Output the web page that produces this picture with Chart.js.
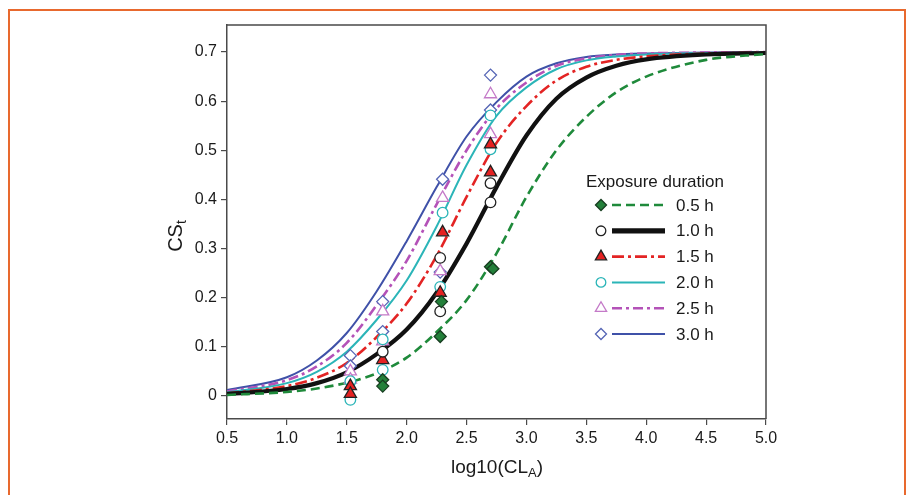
<!DOCTYPE html>
<html>
<head>
<meta charset="utf-8">
<script src="https://cdn.jsdelivr.net/npm/chart.js@4.4.0/dist/chart.umd.min.js"></script>
<style>
  html, body { margin: 0; padding: 0; background: #fff; }
  #wrap { position: relative; width: 917px; height: 495px; overflow: hidden; }
  #frame { position: absolute; left: 8px; top: 9px; width: 898px; height: 600px; border: 2px solid #e8692e; box-sizing: border-box; }
  #chart { position: absolute; left: 0; top: 0; }
</style>
</head>
<body>
<div id="wrap">
  <div id="frame"></div>
  <canvas id="chart" width="917" height="495"></canvas>
</div>
<script>
// fitted curves at these x positions
const curveX = [0.5, 1.0, 1.25, 1.5, 1.75, 2.0, 2.25, 2.5, 2.75, 3.0, 3.25, 3.5, 3.75, 4.0, 4.5, 5.0];
const curve05 = [0.002, 0.008, 0.015, 0.027, 0.046, 0.078, 0.130, 0.195, 0.290, 0.405, 0.500, 0.568, 0.618, 0.650, 0.684, 0.696];
const curve10 = [0.004, 0.014, 0.026, 0.048, 0.085, 0.135, 0.210, 0.310, 0.425, 0.530, 0.605, 0.648, 0.672, 0.685, 0.695, 0.698];
const curve15 = [0.005, 0.020, 0.037, 0.067, 0.120, 0.188, 0.285, 0.405, 0.515, 0.590, 0.642, 0.670, 0.684, 0.691, 0.697, 0.699];
const curve20 = [0.007, 0.026, 0.049, 0.090, 0.155, 0.235, 0.345, 0.470, 0.570, 0.628, 0.665, 0.683, 0.691, 0.695, 0.698, 0.699];
const curve25 = [0.009, 0.032, 0.060, 0.108, 0.185, 0.275, 0.390, 0.500, 0.585, 0.638, 0.672, 0.687, 0.694, 0.697, 0.699, 0.700];
const curve30 = [0.012, 0.038, 0.072, 0.128, 0.213, 0.315, 0.425, 0.528, 0.598, 0.650, 0.677, 0.690, 0.695, 0.697, 0.699, 0.700];

// measured points
const ptX05 = [1.80, 1.80, 2.28, 2.29, 2.70, 2.72];
const ptY05 = [0.033, 0.020, 0.121, 0.192, 0.263, 0.259];
const ptX10 = [1.80, 2.28, 2.28, 2.70, 2.70];
const ptY10 = [0.090, 0.281, 0.172, 0.433, 0.394];
const ptX15 = [1.53, 1.53, 1.80, 2.28, 2.30, 2.70, 2.70];
const ptY15 = [0.020, 0.004, 0.073, 0.210, 0.333, 0.512, 0.455];
const ptX20 = [1.53, 1.53, 1.80, 1.80, 2.28, 2.30, 2.70, 2.70];
const ptY20 = [0.030, -0.008, 0.053, 0.115, 0.222, 0.373, 0.571, 0.502];
const ptX25 = [1.53, 1.53, 1.80, 1.80, 2.28, 2.30, 2.70, 2.70];
const ptY25 = [0.050, 0.033, 0.172, 0.111, 0.254, 0.403, 0.614, 0.533];
const ptX30 = [1.53, 1.53, 1.80, 1.80, 2.28, 2.30, 2.70, 2.70];
const ptY30 = [0.082, 0.061, 0.192, 0.131, 0.252, 0.441, 0.653, 0.582];

const durations = ['0.5 h', '1.0 h', '1.5 h', '2.0 h', '2.5 h', '3.0 h'];
const yTicks = [0, 0.1, 0.2, 0.3, 0.4, 0.5, 0.6, 0.7];

// style per series
const styles = [
    { line: '#1f8a3b', width: 2.6, dash: [9, 5], point: 'rectRot', r: 6, fill: '#23803a', stroke: '#173d20' },
    { line: '#111111', width: 4.2, dash: [], point: 'circle', r: 5.3, fill: '#ffffff', stroke: '#222222' },
    { line: '#e32424', width: 2.6, dash: [12, 4, 3, 4], point: 'triangle', r: 7, fill: '#e52222', stroke: '#222222' },
    { line: '#2bb5b8', width: 2, dash: [], point: 'circle', r: 5.3, fill: '#ffffff', stroke: '#2bb5b8' },
    { line: '#b452b8', width: 2.6, dash: [10, 4, 3, 4], point: 'triangle', r: 7, fill: '#ffffff', stroke: '#c47ac8' },
    { line: '#3f51a8', width: 2, dash: [], point: 'rectRot', r: 6, fill: '#ffffff', stroke: '#5565b5' }
];

const curves = [curve05, curve10, curve15, curve20, curve25, curve30];
const ptXs = [ptX05, ptX10, ptX15, ptX20, ptX25, ptX30];
const ptYs = [ptY05, ptY10, ptY15, ptY20, ptY25, ptY30];

function toXY(xs, ys) {
    return xs.map((x, i) => ({ x: x, y: ys[i] }));
}

const datasets = [];
styles.forEach((s, i) => {
    datasets.push({
        type: 'scatter',
        label: durations[i] + ' data',
        data: toXY(ptXs[i], ptYs[i]),
        pointStyle: s.point,
        pointRadius: s.r,
        pointBackgroundColor: s.fill,
        pointBorderColor: s.stroke,
        pointBorderWidth: 1.3,
        showLine: false,
        order: 0
    });
});
styles.forEach((s, i) => {
    datasets.push({
        type: 'line',
        label: durations[i],
        data: toXY(curveX, curves[i]),
        borderColor: s.line,
        borderWidth: s.width,
        borderDash: s.dash,
        pointRadius: 0,
        fill: false,
        cubicInterpolationMode: 'monotone',
        order: 1
    });
});

// text with subscripts, centred on x
function drawSubText(ctx, parts, x, y, size) {
    const big = size + 'px "Liberation Sans", Arial, sans-serif';
    const small = Math.round(size * 0.68) + 'px "Liberation Sans", Arial, sans-serif';
    let total = 0;
    parts.forEach(p => { ctx.font = p[1] ? small : big; total += ctx.measureText(p[0]).width; });
    let cx = x - total / 2;
    ctx.textAlign = 'left';
    ctx.textBaseline = 'middle';
    parts.forEach(p => {
        ctx.font = p[1] ? small : big;
        ctx.fillText(p[0], cx, p[1] ? y + size * 0.3 : y);
        cx += ctx.measureText(p[0]).width;
    });
}

const decorPlugin = {
    id: 'decor',
    afterDraw(chart) {
        const ctx = chart.ctx;
        const a = chart.chartArea;
        ctx.save();

        // top and right edges of the frame
        ctx.strokeStyle = '#4a4a4a';
        ctx.lineWidth = 1.5;
        ctx.beginPath();
        ctx.moveTo(a.left, a.top);
        ctx.lineTo(a.right, a.top);
        ctx.lineTo(a.right, a.bottom);
        ctx.stroke();

        // axis titles
        ctx.fillStyle = '#1a1a1a';
        drawSubText(ctx, [['log10(CL', false], ['A', true], [')', false]], 497, 468, 19);
        ctx.save();
        ctx.translate(176, 236);
        ctx.rotate(-Math.PI / 2);
        drawSubText(ctx, [['CS', false], ['t', true]], 0, 0, 20);
        ctx.restore();

        // legend
        ctx.font = '17px "Liberation Sans", Arial, sans-serif';
        ctx.textAlign = 'left';
        ctx.textBaseline = 'middle';
        ctx.fillText('Exposure duration', 586, 182);
        styles.forEach((s, i) => {
            const y = 205 + i * 25.8;
            ctx.save();
            ctx.strokeStyle = s.line;
            ctx.lineWidth = s.width + (i === 1 ? 1 : 0);
            ctx.setLineDash(s.dash);
            ctx.beginPath();
            ctx.moveTo(612, y);
            ctx.lineTo(665, y);
            ctx.stroke();
            ctx.restore();

            ctx.save();
            ctx.fillStyle = s.fill;
            ctx.strokeStyle = s.stroke;
            ctx.lineWidth = 1.3;
            Chart.helpers.drawPoint(ctx, { pointStyle: s.point, radius: s.r - 0.5, rotation: 0, borderWidth: 1.3 }, 601, y);
            ctx.restore();

            ctx.fillStyle = '#1a1a1a';
            ctx.font = '17px "Liberation Sans", Arial, sans-serif';
            ctx.fillText(durations[i], 676, y + 1);
        });

        ctx.restore();
    }
};

const tickFont = { family: '"Liberation Sans", Arial, sans-serif', size: 16 };

new Chart(document.getElementById('chart'), {
    data: { datasets: datasets },
    options: {
        responsive: false,
        animation: false,
        devicePixelRatio: 1,
        layout: { padding: { top: 25, right: 151, bottom: 0, left: 0 } },
        plugins: {
            legend: { display: false },
            tooltip: { enabled: false }
        },
        scales: {
            x: {
                type: 'linear',
                min: 0.5,
                max: 5.0,
                ticks: {
                    stepSize: 0.5,
                    color: '#1a1a1a',
                    font: tickFont,
                    padding: 4,
                    maxRotation: 0,
                    callback: v => v.toFixed(1)
                },
                grid: { drawOnChartArea: false, tickLength: 6, color: '#4a4a4a', lineWidth: 1.2 },
                border: { color: '#4a4a4a', width: 1.5 },
                afterFit: s => { s.height = 76; }
            },
            y: {
                type: 'linear',
                min: -0.047,
                max: 0.755,
                afterBuildTicks: axis => { axis.ticks = yTicks.map(v => ({ value: v })); },
                ticks: {
                    color: '#1a1a1a',
                    font: tickFont,
                    padding: 4,
                    callback: v => (v === 0 ? '0' : v.toFixed(1))
                },
                grid: { drawOnChartArea: false, tickLength: 6, color: '#4a4a4a', lineWidth: 1.2 },
                border: { color: '#4a4a4a', width: 1.5 },
                afterFit: s => { s.width = 227; }
            }
        }
    },
    plugins: [decorPlugin]
});
</script>
</body>
</html>
